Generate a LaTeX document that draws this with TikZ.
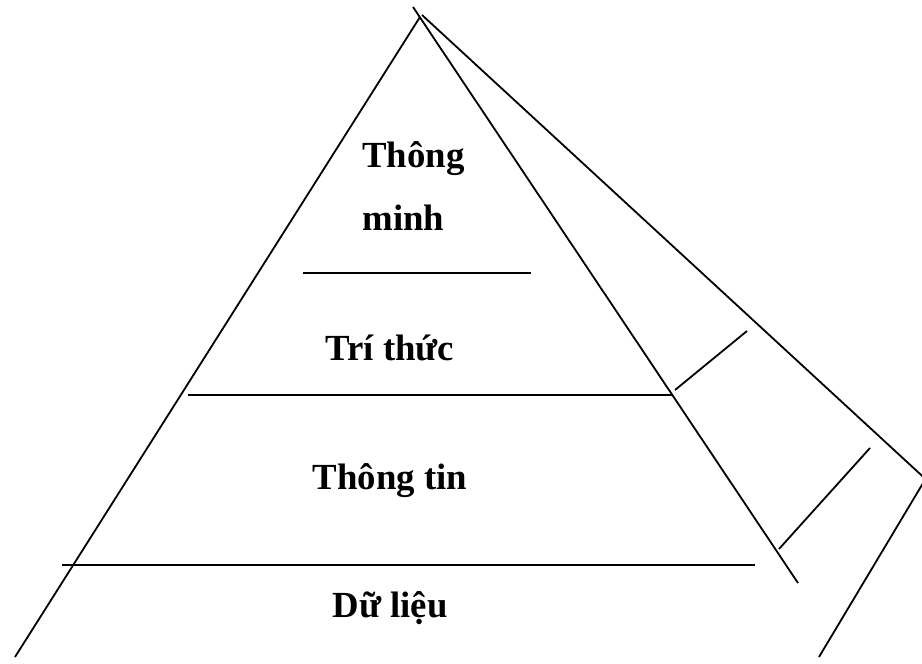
\documentclass[tikz,border=0pt]{standalone}
\usepackage{fontspec}
\setmainfont{Liberation Serif}
\usepackage{tikz}
\usetikzlibrary{calc}

\begin{document}
\begin{tikzpicture}[x=0.5pt,y=-0.5pt,
  edge/.style={line width=0.9pt,black},
  lbl/.style={font=\fontsize{18.4}{22}\selectfont\bfseries,inner sep=0pt}
]
  \clip (0,0) rectangle (922,664);
  % pyramid
  \coordinate (top) at (420,17);
  \coordinate (topr) at (413,7);
  \coordinate (topo) at (422,15);
  \coordinate (bl) at (15,657);
  \coordinate (br) at (798,583);
  \coordinate (corner) at (925.5,479);
  \coordinate (ob) at (819,657);
  \draw[edge] (top) -- (bl);
  \draw[edge] (topr) -- (br);
  \draw[edge] (topo) -- (corner) -- (ob);
  % levels
  \draw[edge] (303,273) -- (531,273);
  \draw[edge] (188,395) -- (673,395);
  \draw[edge] (62,565) -- (755,565);
  % side ticks
  \draw[edge] (675,390) -- (747,331);
  \draw[edge] (779,549) -- (870,448);
  \node[lbl,anchor=base west] (tm1) at (362,167) {Thông};
  \node[lbl,anchor=base west] (tm2) at (362,230) {minh};
  \node[lbl,anchor=base] (tt) at (390,360) {Trí thức};
  \node[lbl,anchor=base] (ti) at (390,489) {Thông tin};
  \node[lbl,anchor=base] (dl) at (390,617) {Dữ liệu};
\end{tikzpicture}
\end{document}
